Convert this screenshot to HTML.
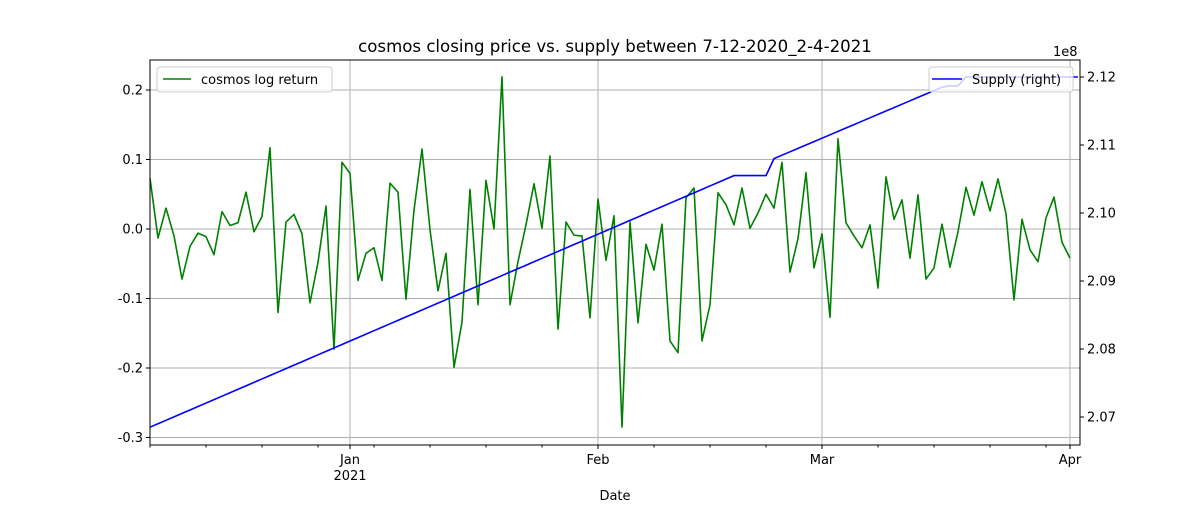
<!DOCTYPE html>
<html><head><meta charset="utf-8"><style>
body{margin:0;background:#fff;font-family:"Liberation Sans","DejaVu Sans",sans-serif}
svg text{font-family:"DejaVu Sans","Liberation Sans",sans-serif;fill:#000}
</style></head><body>
<svg id="chart" width="1200" height="500" xmlns="http://www.w3.org/2000/svg"></svg>
<script>
const logReturn=[0.073,-0.013,0.03,-0.01,-0.072,-0.025,-0.006,-0.011,-0.037,0.025,0.005,0.009,0.053,-0.004,0.018,0.117,-0.12,0.01,0.021,-0.007,-0.106,-0.048,0.033,-0.173,0.096,0.08,-0.074,-0.035,-0.027,-0.074,0.066,0.053,-0.101,0.027,0.115,-0.001,-0.089,-0.035,-0.199,-0.134,0.057,-0.109,0.07,0.0,0.219,-0.109,-0.047,0.006,0.065,0.001,0.105,-0.144,0.01,-0.009,-0.01,-0.128,0.043,-0.045,0.019,-0.285,0.01,-0.135,-0.022,-0.059,0.007,-0.161,-0.178,0.045,0.059,-0.161,-0.109,0.052,0.035,0.006,0.059,0.001,0.023,0.05,0.03,0.096,-0.062,-0.014,0.081,-0.056,-0.007,-0.127,0.13,0.009,-0.01,-0.027,0.006,-0.085,0.075,0.014,0.042,-0.042,0.049,-0.072,-0.056,0.007,-0.055,-0.004,0.06,0.02,0.068,0.026,0.072,0.022,-0.102,0.014,-0.03,-0.047,0.016,0.046,-0.019,-0.042];
const supply=[];
for(let i=0;i<117;i++){let v;
 if(i<=73)v=2.0685+(2.1055-2.0685)*i/73;
 else if(i<=77)v=2.1055;
 else if(i<=99)v=2.108+(2.1185-2.108)*(i-78)/21;
 else if(i<=101)v=2.1187;
 else v=2.12;
 supply.push(v);}
const leftTicks=[-0.3,-0.2,-0.1,0.0,0.1,0.2];
const rightTicks=[2.07,2.08,2.09,2.10,2.11,2.12];
const majorTicks=[[25,"Jan","2021"],[56,"Feb",""],[84,"Mar",""],[115,"Apr",""]];

const L=150,R=1080,T=60,B=445;
const xs=d=>Math.min(L+8*d,R);
const yl=v=>229-v*695;
const yr=v=>77+(2.12-v)*6800;
const svg=document.getElementById('chart');
const NS='http://www.w3.org/2000/svg';
function mk(tag,attrs,parent){const e=document.createElementNS(NS,tag);for(const k in attrs)e.setAttribute(k,attrs[k]);(parent||svg).appendChild(e);return e;}

leftTicks.forEach(t=>{const g=mk('line',{x1:L,x2:R,y1:yl(t),y2:yl(t),stroke:'#b0b0b0','stroke-width':1});

});
majorTicks.forEach(m=>{const g=mk('line',{x1:xs(m[0]),x2:xs(m[0]),y1:T,y2:B,stroke:'#b0b0b0','stroke-width':1});

});

let p=logReturn.map((v,i)=>(i?'L':'M')+xs(i)+','+yl(v)).join('');
const g1=mk('path',{d:p,fill:'none',stroke:'#008000','stroke-width':1.6,'stroke-linejoin':'round'});


p=supply.map((v,i)=>(i?'L':'M')+xs(i)+','+yr(v)).join('');
const g2=mk('path',{d:p,fill:'none',stroke:'#0000ff','stroke-width':1.6,'stroke-linejoin':'round'});



const fr=mk('rect',{x:L,y:T,width:R-L,height:B-T,fill:'none',stroke:'#000','stroke-width':1});



leftTicks.forEach(t=>{mk('line',{x1:L-4,x2:L,y1:yl(t),y2:yl(t),stroke:'#000'});
const tx=mk('text',{x:L-7,y:yl(t)+4.5,'text-anchor':'end','font-size':13});tx.textContent=t.toFixed(1);

});
rightTicks.forEach(t=>{mk('line',{x1:R,x2:R+4,y1:yr(t),y2:yr(t),stroke:'#000'});
const tx=mk('text',{x:R+7,y:yr(t)+4.5,'font-size':13});tx.textContent=t.toFixed(2);

});
for(let d=0;d<=116;d+=7){mk('line',{x1:xs(d),x2:xs(d),y1:B,y2:B+2.5,stroke:'#000'});}
majorTicks.forEach(m=>{mk('line',{x1:xs(m[0]),x2:xs(m[0]),y1:B,y2:B+4,stroke:'#000'});
const tx=mk('text',{x:xs(m[0]),y:B+19,'text-anchor':'middle','font-size':13});tx.textContent=m[1];


if(m[2]){const t2=mk('text',{x:xs(m[0]),y:B+35,'text-anchor':'middle','font-size':13});t2.textContent=m[2];

}});
</script>
<svg width="1200" height="500" style="position:absolute;left:0;top:0" xmlns="http://www.w3.org/2000/svg">
<text x="615" y="52" text-anchor="middle" font-size="16.6">cosmos closing price vs. supply between 7-12-2020_2-4-2021</text>
<text x="1053" y="56" font-size="13">1e8</text>
<text x="615" y="500" text-anchor="middle" font-size="13">Date</text>
<g>
<rect x="157" y="67" width="175" height="25" rx="3" fill="#fff" fill-opacity="0.8" stroke="#ccc"/>
<line x1="163" y1="79" x2="191" y2="79" stroke="#008000" stroke-width="1.5"/>
<text x="201" y="84" font-size="13">cosmos log return</text>
</g>
<g>
<rect x="929" y="67" width="144" height="25" rx="3" fill="#fff" fill-opacity="0.8" stroke="#ccc"/>
<line x1="932" y1="79" x2="962" y2="79" stroke="#0000ff" stroke-width="1.5"/>
<text x="972" y="84" font-size="13">Supply (right)</text>
</g>
</svg>
</body></html>
